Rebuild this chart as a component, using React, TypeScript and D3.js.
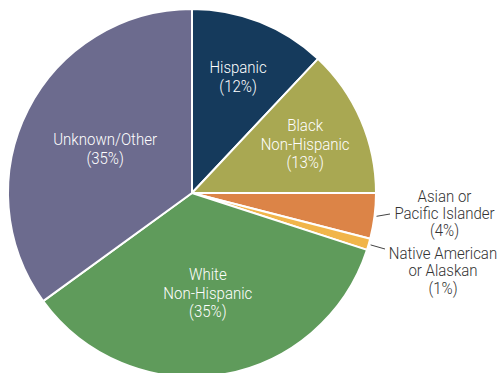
import React from "react";
import * as d3 from "d3";

const categories = [
  "Hispanic",
  "Black Non-Hispanic",
  "Asian or Pacific Islander",
  "Native American or Alaskan",
  "White Non-Hispanic",
  "Unknown/Other",
];
const values = [12, 13, 4, 1, 35, 35];
const labelLines = [
  ["Hispanic", "(12%)"],
  ["Black", "Non-Hispanic", "(13%)"],
  ["Asian or", "Pacific Islander", "(4%)"],
  ["Native American", "or Alaskan", "(1%)"],
  ["White", "Non-Hispanic", "(35%)"],
  ["Unknown/Other", "(35%)"],
];
const colors = ["#153a5c", "#a9a852", "#dc8447", "#f1b54a", "#5f9b5b", "#6c6b8e"];

const W = 500;
const H = 373;
const CX = 192;
const CY = 193;
const R = 184;
const FONT = "Roboto, 'Noto Sans', sans-serif";
const FS = 16.5;
const LH = 18.5;
const SX = 0.91;

// inside-label radii (fraction of R) and outside-label settings
const insideRadius: Record<number, number> = { 0: 0.68, 1: 0.67, 4: 0.55, 5: 0.53 };
const outside: Record<number, { tx: number; ty: number; ex: number; ey: number }> = {
  2: { tx: 444.5, ty: 201.5, ex: 390, ey: 214 },
  3: { tx: 443, ty: 259, ex: 385, ey: 249 },
};

export default function App() {
  const pie = d3.pie<number>().sort(null).value((d) => d)(values);
  const arc = d3.arc<d3.PieArcDatum<number>>().innerRadius(0).outerRadius(R);

  return (
    <svg
      width={W}
      height={H}
      style={{ position: "absolute", left: 0, top: 0, background: "#fff" }}
    >
      <g transform={`translate(${CX},${CY})`}>
        {pie.map((p, i) => (
          <path key={categories[i]} d={arc(p) || ""} fill={colors[i]} stroke="#fff" strokeWidth={2} strokeLinejoin="round" />
        ))}
        {pie.map((p, i) => {
          const mid = (p.startAngle + p.endAngle) / 2;
          if (insideRadius[i] !== undefined) {
            const r = insideRadius[i] * R;
            const x = Math.sin(mid) * r;
            const y = -Math.cos(mid) * r;
            const lines = labelLines[i];
            const y0 = y - ((lines.length - 1) * LH) / 2 + FS * 0.36;
            return (
              <text key={"l" + i} transform={`translate(${x},${y0}) scale(${SX},1)`} textAnchor="middle" fill="#fff" fontFamily={FONT} fontWeight={300} fontSize={FS}>
                {lines.map((t, k) => (
                  <tspan key={k} x={0} y={k * LH}>{t}</tspan>
                ))}
              </text>
            );
          }
          const o = outside[i];
          const r0 = R + 2;
          const sx = Math.sin(mid) * r0;
          const sy = -Math.cos(mid) * r0;
          return (
            <g key={"o" + i}>
              <line x1={sx} y1={sy} x2={o.ex - CX} y2={o.ey - CY} stroke="#444" strokeWidth={1} />
              <text transform={`translate(${o.tx - CX},${o.ty - CY}) scale(${SX},1)`} textAnchor="middle" fill="#333" fontFamily={FONT} fontWeight={300} fontSize={FS}>
                {labelLines[i].map((t, k) => (
                  <tspan key={k} x={0} y={k * 17.5}>{t}</tspan>
                ))}
              </text>
            </g>
          );
        })}
      </g>
    </svg>
  );
}
